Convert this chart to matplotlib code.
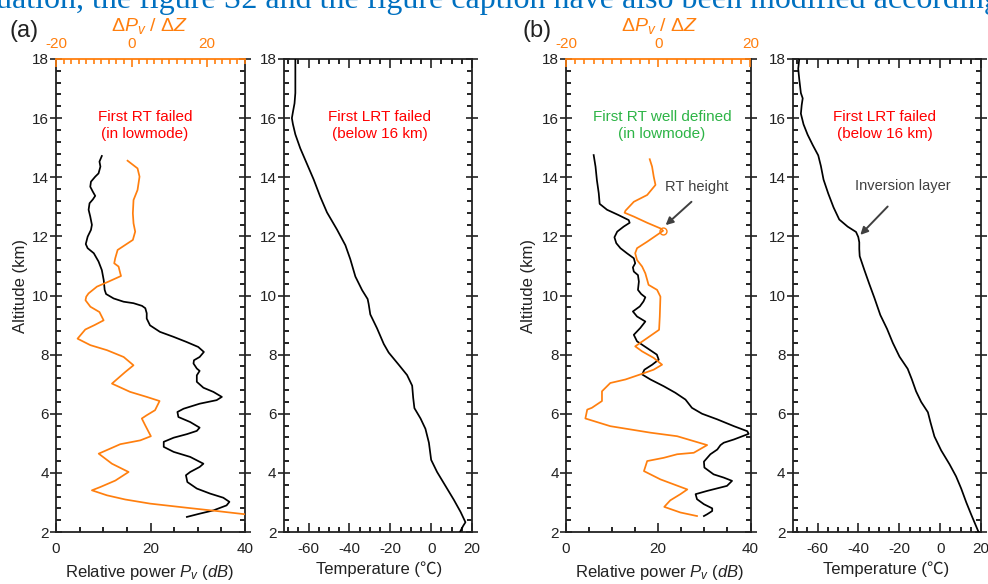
import matplotlib
matplotlib.use("Agg")
import matplotlib.pyplot as plt
from matplotlib.ticker import MultipleLocator, FixedLocator

plt.rcParams['font.family'] = ['Liberation Sans', 'DejaVu Sans']
plt.rcParams['mathtext.fontset'] = 'custom'
plt.rcParams['mathtext.rm'] = 'Liberation Sans'
plt.rcParams['mathtext.it'] = 'Liberation Sans:italic'
plt.rcParams['mathtext.bf'] = 'Liberation Sans:bold'
plt.rcParams['axes.unicode_minus'] = False

ORANGE = '#FF7F0E'
RED = '#FF0000'
GREEN = '#2DB446'
GRAY = '#404040'
TXT = '#222222'

# ---------------- data: panel (a) ----------------
a_pv_alt = [14.72, 14.53, 14.36, 14.13, 14.02, 13.85, 13.68, 13.51, 13.37, 13.25, 13.12, 12.9, 12.67, 12.39,
            12.22, 11.99, 11.74, 11.6, 11.43, 11.15, 10.86, 10.52, 10.19, 10.05, 9.9, 9.79, 9.74, 9.65, 9.57,
            9.4, 9.22, 8.99, 8.77, 8.6, 8.43, 8.26, 8.09, 7.92, 7.81, 7.7, 7.53, 7.45, 7.3, 7.08, 6.88, 6.74,
            6.57, 6.46, 6.34, 6.17, 6.06, 5.89, 5.72, 5.53, 5.42, 5.31, 5.19, 5.05, 4.88, 4.71, 4.54, 4.31,
            4.2, 4.03, 3.92, 3.69, 3.47, 3.3, 3.16, 3.02, 2.9, 2.73, 2.62, 2.51]
a_pv = [9.7, 9.2, 9.4, 9.0, 8.3, 7.4, 7.25, 7.8, 8.3, 7.8, 7.1, 6.9, 7.25, 7.6,
        7.4, 6.7, 6.3, 6.7, 8.0, 9.0, 9.7, 10.1, 10.3, 10.6, 12.2, 14.3, 16.4, 18.2, 18.9,
        19.2, 19.2, 19.9, 22.0, 24.9, 27.6, 30.1, 31.3, 30.4, 29.2, 29.1, 29.8, 30.4, 29.8, 29.8, 31.2, 33.3,
        35.1, 34.0, 30.4, 27.0, 25.7, 25.9, 28.4, 30.4, 29.8, 27.7, 24.9, 22.8, 22.8, 24.9, 28.4, 31.2,
        30.4, 28.4, 27.5, 27.8, 29.8, 32.6, 35.4, 36.7, 36.1, 33.3, 30.4, 27.7]

a_grad_alt = [14.56, 14.3, 14.02, 13.57, 13.23, 12.78, 12.44, 12.16, 11.88, 11.71, 11.54, 11.26, 11.09,
              10.98, 10.75, 10.66, 10.47, 10.3, 10.07, 9.96, 9.84, 9.62, 9.44, 9.16, 9.0, 8.85, 8.54, 8.32,
              8.15, 7.92, 7.64, 7.41, 7.02, 6.74, 6.57, 6.43, 6.12, 5.95, 5.84, 5.61, 5.24, 5.1, 4.97, 4.65,
              4.31, 4.03, 3.74, 3.52, 3.41, 3.24, 3.1, 2.96, 2.82, 2.71, 2.6]
a_grad = [-1.07, 1.57, 2.1, 1.57, 0.51, 0.33, 0.51, 0.95, 0.33, -1.69, -3.7, -4.33, -4.6,
          -3.45, -3.0, -2.8, -6.1, -9.17, -11.4, -12.0, -12.2, -10.9, -8.5, -7.4, -9.8, -12.25, -14.3, -10.9,
          -6.5, -2.1, 0.5, -1.7, -5.2, -0.4, 4.0, 7.4, 6.2, 4.0, 2.7, 3.6, 5.1, 2.3, -3.0, -8.7,
          -5.2, -0.8, -4.3, -8.3, -10.5, -6.5, -1.7, 4.9, 14.6, 22.5, 30.0]

a_temp_alt = [18.0, 17.44, 16.85, 16.5, 16.2, 16.0, 15.8, 15.45, 14.98, 14.45, 13.92, 13.34, 12.81, 12.23,
              11.7, 11.23, 10.64, 10.18, 9.88, 9.71, 9.36, 8.89, 8.36, 8.07, 7.66, 7.31, 6.95, 6.54, 6.19,
              5.84, 5.49, 5.02, 4.44, 4.03, 3.56, 3.09, 2.68, 2.33, 2.21, 2.0]
a_temp = [-66.5, -66.5, -66.5, -66.9, -67.7, -68.2, -67.7, -66.5, -64.1, -60.8, -57.5, -54.3, -51.0, -46.1,
          -42.0, -39.6, -37.1, -33.8, -31.1, -30.6, -29.8, -26.5, -23.2, -20.8, -15.9, -11.8, -9.3, -8.8, -8.2,
          -5.2, -2.8, -1.1, 0.0, 2.9, 7.0, 11.1, 14.4, 16.8, 15.7, 14.1]

# ---------------- data: panel (b) ----------------
b_pv_alt = [14.75, 14.36, 13.9, 13.46, 13.1, 12.9, 12.72, 12.55, 12.46, 12.33, 12.16, 11.97, 11.77, 11.6,
            11.43, 11.26, 11.09, 10.95, 10.81, 10.69, 10.47, 10.19, 10.05, 9.94, 9.8, 9.63, 9.46, 9.29, 9.12,
            8.9, 8.67, 8.45, 8.22, 8.0, 7.83, 7.66, 7.49, 7.33, 7.16, 6.93, 6.71, 6.48, 6.2, 6.0, 5.81, 5.58,
            5.41, 5.32, 5.13, 5.02, 4.94, 4.79, 4.63, 4.38, 4.18, 3.95, 3.84, 3.73, 3.56, 3.39, 3.28, 3.11,
            2.94, 2.8, 2.71, 2.6, 2.54]
b_pv = [6.0, 6.4, 6.7, 7.1, 7.3, 8.9, 11.4, 13.6, 13.8, 12.5, 11.1, 10.5, 10.9, 11.8,
        13.2, 14.7, 15.0, 14.5, 14.7, 15.6, 15.8, 15.6, 16.3, 17.2, 16.8, 16.0, 14.5, 15.4, 17.2,
        16.1, 14.7, 15.4, 17.6, 19.7, 20.1, 18.7, 17.0, 16.5, 18.3, 21.2, 23.7, 25.9, 27.3, 29.5, 32.8, 36.4,
        39.3, 39.6, 36.4, 34.2, 33.5, 32.8, 31.3, 29.9, 30.0, 32.0, 34.2, 36.0, 34.9, 30.6, 28.1, 28.4,
        29.9, 31.7, 31.7, 30.6, 29.9]

b_grad_alt = [14.61, 14.36, 14.02, 13.74, 13.4, 13.17, 12.87, 12.8, 12.67, 12.46, 12.27, 12.19, 12.05,
              11.82, 11.6, 11.43, 11.2, 10.98, 10.75, 10.53, 10.36, 10.19, 9.96, 9.62, 9.29, 8.84, 8.56,
              8.28, 8.11, 7.89, 7.66, 7.49, 7.33, 7.16, 7.04, 6.76, 6.43, 6.2, 6.14, 5.84, 5.58, 5.36, 5.24,
              4.94, 4.68, 4.63, 4.51, 4.4, 4.06, 3.78, 3.44, 3.28, 3.07, 2.85, 2.66, 2.54]
b_grad = [-1.85, -1.34, -0.98, -0.6, -2.4, -5.3, -7.1, -7.3, -5.3, -2.4, 0.47, 1.05, -0.25,
          -2.4, -4.6, -5.0, -4.6, -3.5, -2.8, -2.4, -2.1, -0.25, 0.47, 0.4, 0.33, 0.18, -2.4,
          -5.0, -3.5, -1.0, 0.83, -1.0, -3.9, -7.1, -10.4, -12.2, -12.2, -14.4, -15.4, -15.8, -10.4, -1.7, 4.1,
          10.6, 7.7, 4.1, 1.2, -2.4, -3.1, 0.47, 6.3, 4.8, 2.6, 1.3, 4.8, 8.4]
b_rt_grad, b_rt_alt = 1.05, 12.19

b_temp_alt = [18.0, 17.67, 17.32, 16.85, 16.67, 16.44, 16.15, 15.79, 15.44, 15.09, 14.74, 14.38, 13.92,
              13.45, 12.98, 12.57, 12.33, 12.15, 11.98, 11.8, 11.57, 11.33, 10.86, 10.39, 9.92, 9.34, 8.87,
              8.4, 7.93, 7.52, 7.17, 6.76, 6.4, 6.05, 5.7, 5.23, 4.76, 4.29, 3.88, 3.47, 3.0, 2.59, 2.18, 2.0]
b_temp = [-69.0, -69.5, -69.0, -68.2, -67.3, -67.8, -68.2, -66.9, -64.9, -62.4, -59.7, -58.4, -57.1,
          -54.8, -52.2, -49.4, -45.3, -41.2, -40.1, -39.6, -39.6, -39.4, -37.1, -34.7, -32.2, -29.3, -26.0,
          -23.2, -19.9, -15.9, -13.9, -11.8, -9.3, -6.0, -4.7, -2.8, 0.5, 4.6, 7.8, 10.3, 12.8, 15.2, 17.7, 18.8]

alt_ticks = [2, 4, 6, 8, 10, 12, 14, 16, 18]
pv_ticks = [0, 20, 40]
grad_ticks = [-20, 0, 20]
temp_ticks = [-60, -40, -20, 0, 20]

W, H = 988, 584
fig = plt.figure(figsize=(W / 100, H / 100), dpi=100)
TICKFS = 11


def rect(x0, x1, y0=59, y1=532):
    return [x0 / W, 1 - y1 / H, (x1 - x0) / W, (y1 - y0) / H]


def style_y(ax):
    ax.set_ylim(2, 18)
    ax.yaxis.set_major_locator(FixedLocator(alt_ticks))
    ax.yaxis.set_minor_locator(MultipleLocator(0.4))
    ax.tick_params(axis='y', which='major', direction='inout', length=8, width=1.2,
                   left=True, right=True, labelsize=TICKFS, pad=1, colors=TXT)
    ax.tick_params(axis='y', which='minor', direction='in', length=3.8, width=1.2,
                   left=True, right=True)
    for s in ax.spines.values():
        s.set_linewidth(1.3)
        s.set_color(TXT)


def power_panel(rect_, pv, pv_alt, grad, grad_alt, gxlim, lab_x, ylab_x):
    ax = fig.add_axes(rect_)
    style_y(ax)
    ax.set_xlim(0, 40)
    ax.xaxis.set_major_locator(FixedLocator(pv_ticks))
    ax.xaxis.set_minor_locator(MultipleLocator(5))
    ax.tick_params(axis='x', which='major', direction='in', length=6.5, width=1.2,
                   top=False, labelsize=TICKFS, pad=7, colors=TXT)
    ax.tick_params(axis='x', which='minor', direction='in', length=3.5, width=1.2, top=False)
    ax.spines['top'].set_visible(False)
    ax.plot(pv, pv_alt, color='black', lw=1.25, zorder=3)
    ax.set_xlabel(r'Relative power $P_v$ $\mathit{(dB)}$', fontsize=12, color=TXT)
    ax.xaxis.set_label_coords(lab_x, -0.065)
    ax.xaxis.label.set_va('top')
    ax.set_ylabel('Altitude (km)', fontsize=12, color=TXT)
    ax.yaxis.set_label_coords(ylab_x, 0.52)

    at = ax.twiny()
    at.set_xlim(*gxlim)
    at.xaxis.set_major_locator(FixedLocator(grad_ticks))
    at.xaxis.set_minor_locator(MultipleLocator(2))
    at.tick_params(axis='x', which='major', direction='in', length=6, width=1.2,
                   colors=ORANGE, labelsize=TICKFS, pad=6)
    at.tick_params(axis='x', which='minor', direction='in', length=3.5, width=1.2, colors=ORANGE)
    for k in ('bottom', 'left', 'right'):
        at.spines[k].set_visible(False)
    at.spines['top'].set_color(ORANGE)
    at.spines['top'].set_linewidth(1.3)
    at.plot(grad, grad_alt, color=ORANGE, lw=1.25, zorder=3, clip_on=True)
    return ax, at


def temp_panel(rect_, temp, temp_alt, lab_x):
    ax = fig.add_axes(rect_)
    style_y(ax)
    ax.set_xlim(-72.3, 20)
    ax.xaxis.set_major_locator(FixedLocator(temp_ticks))
    ax.xaxis.set_minor_locator(MultipleLocator(5))
    ax.tick_params(axis='x', which='major', direction='in', length=6.5, width=1.2,
                   top=True, labelsize=TICKFS, pad=7, colors=TXT)
    ax.tick_params(axis='x', which='minor', direction='in', length=3.5, width=1.2, top=True)
    ax.plot(temp, temp_alt, color='black', lw=1.25, zorder=3)
    ax.set_xlabel('Temperature (\u2103)', fontsize=12, color=TXT,
                  family=['Liberation Sans', 'Noto Sans CJK SC', 'DejaVu Sans'])
    ax.xaxis.set_label_coords(lab_x, -0.062)
    ax.xaxis.label.set_va('top')
    return ax


# panel (a)
a1, a1t = power_panel(rect(56, 245), a_pv, a_pv_alt, a_grad, a_grad_alt, (-20, 30), 0.497, -0.15)
a2 = temp_panel(rect(283.5, 472), a_temp, a_temp_alt, 0.507)
# panel (b)
b1, b1t = power_panel(rect(566, 750.5), b_pv, b_pv_alt, b_grad, b_grad_alt, (-20, 20), 0.505, -0.16)
b2 = temp_panel(rect(792.5, 981), b_temp, b_temp_alt, 0.496)

# annotations
a1.text(0.471, 0.86, 'First RT failed\n(in lowmode)', transform=a1.transAxes, ha='center', va='center',
        color=RED, fontsize=11, linespacing=1.25)
a2.text(0.51, 0.86, 'First LRT failed\n(below 16 km)', transform=a2.transAxes, ha='center', va='center',
        color=RED, fontsize=11, linespacing=1.25)
b1.text(0.52, 0.86, 'First RT well defined\n(in lowmode)', transform=b1.transAxes, ha='center',
        va='center', color=GREEN, fontsize=11, linespacing=1.25)
b2.text(0.489, 0.86, 'First LRT failed\n(below 16 km)', transform=b2.transAxes, ha='center', va='center',
        color=RED, fontsize=11, linespacing=1.25)

b1t.plot([b_rt_grad], [b_rt_alt], marker='o', ms=5, mfc='none', mec=ORANGE, mew=1.0, zorder=4)
b1t.text(0.71, 0.729, 'RT height', transform=b1.transAxes, ha='center', va='center',
         color=GRAY, fontsize=10.5)
b1t.annotate('', xy=(1.6, 12.38), xytext=(7.2, 13.17),
             arrowprops=dict(arrowstyle='-|>', color=GRAY, lw=1.4, mutation_scale=11,
                             shrinkA=0, shrinkB=0))

b2.text(0.585, 0.731, 'Inversion layer', transform=b2.transAxes, ha='center', va='center',
        color=GRAY, fontsize=10.5)
b2.annotate('', xy=(-39.1, 12.05), xytext=(-25.7, 13.01),
            arrowprops=dict(arrowstyle='-|>', color=GRAY, lw=1.4, mutation_scale=11,
                            shrinkA=0, shrinkB=0))

# panel labels and top axis titles
fig.text(24 / W, 1 - 31 / H, '(a)', ha='center', va='center', fontsize=17, color=TXT)
fig.text(537 / W, 1 - 31 / H, '(b)', ha='center', va='center', fontsize=17, color=TXT)
fig.text(150 / W, 1 - 26 / H, r'$\mathit{\Delta P_v\ /\ \Delta Z}$', ha='center', va='center',
         fontsize=14, color=ORANGE)
fig.text(660 / W, 1 - 26 / H, r'$\mathit{\Delta P_v\ /\ \Delta Z}$', ha='center', va='center',
         fontsize=14, color=ORANGE)

# clipped line of document text at the very top (only its lower part is visible)
fig.text(-4 / W, 1 - 8 / H, 'uation, the figure S2 and the figure caption have also been modified accordingly',
         ha='left', va='baseline', fontsize=23, color='#0070C0', family='Liberation Serif')

fig.savefig('out.png', dpi=100)
